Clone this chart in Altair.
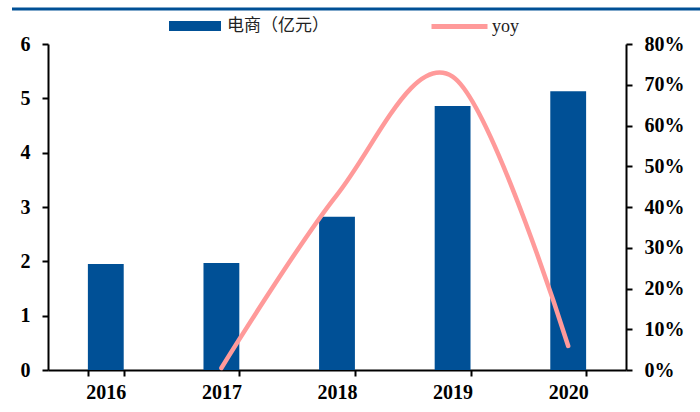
import altair as alt
import pandas as pd

years = ["2016", "2017", "2018", "2019", "2020"]
sales = [1.95, 1.97, 2.82, 4.86, 5.13]
yoy_years = ["2017", "2018", "2019", "2020"]
yoy = [0.005, 0.43, 0.72, 0.059]
left_ticks = [0, 1, 2, 3, 4, 5, 6]
right_ticks = [0, 0.1, 0.2, 0.3, 0.4, 0.5, 0.6, 0.7, 0.8]
bar_name = "电商（亿元）"
line_name = "yoy"

BLUE = "#005096"
PINK = "#FF9A9A"

bar_df = pd.DataFrame({"year": years, "sales": sales, "series": bar_name})
line_df = pd.DataFrame({"year": yoy_years, "yoy": yoy, "series": line_name})

xscale = alt.Scale(domain=years, paddingInner=0.69, paddingOuter=0.345)

axis_common = dict(
    labelFont="Liberation Serif", labelFontSize=20, labelFontWeight="bold",
    labelColor="black", domainColor="black", domainWidth=2,
    tickColor="black", tickWidth=2, tickSize=6, grid=False, title=None,
)

bars = alt.Chart(bar_df).mark_bar().encode(
    x=alt.X("year:N", scale=xscale,
            axis=alt.Axis(labelAngle=0, tickBand="extent", labelPadding=6, **axis_common)),
    y=alt.Y("sales:Q", scale=alt.Scale(domain=[0, 6], nice=False),
            axis=alt.Axis(values=left_ticks, labelPadding=12, **axis_common)),
    color=alt.Color("series:N", scale=alt.Scale(domain=[bar_name], range=[BLUE]),
                    legend=alt.Legend(orient="none", legendX=121, legendY=-44, title=None,
                                      padding=0, symbolType="M-1,-0.19H1V0.19H-1Z",
                                      symbolSize=2704, symbolStrokeWidth=0,
                                      labelFont="Noto Sans CJK SC", labelFontSize=17,
                                      labelColor="#222222", labelOffset=6)),
)

line = alt.Chart(line_df).mark_line(interpolate="cardinal", strokeWidth=4.5, strokeCap="round").encode(
    x=alt.X("year:N", scale=xscale),
    y=alt.Y("yoy:Q", scale=alt.Scale(domain=[0, 0.8], nice=False),
            axis=alt.Axis(orient="right", format=".0%", values=right_ticks,
                          labelPadding=12, **axis_common)),
    stroke=alt.Stroke("series:N", scale=alt.Scale(domain=[line_name], range=[PINK]),
                      legend=alt.Legend(orient="none", legendX=381, legendY=-48, title=None,
                                        padding=0, symbolType="stroke", symbolSize=3136,
                                        symbolStrokeWidth=5,
                                        labelFont="Liberation Serif", labelFontSize=18,
                                        labelColor="#222222", labelOffset=2)),
)

topline = alt.Chart(pd.DataFrame({"k": [0]})).mark_rule(color=BLUE, strokeWidth=3).encode(
    x=alt.value(-36), x2=alt.value(652), y=alt.value(-35)
)

chart = alt.layer(bars, line, topline).resolve_scale(
    y="independent", color="independent", stroke="independent"
).properties(
    width=578, height=326,
    padding={"left": 48, "top": 44, "right": 74, "bottom": 42},
    autosize=alt.AutoSizeParams(type="none"),
).configure_view(stroke=None)

chart.save("out.html", embed_options={"renderer": "svg", "actions": False})
